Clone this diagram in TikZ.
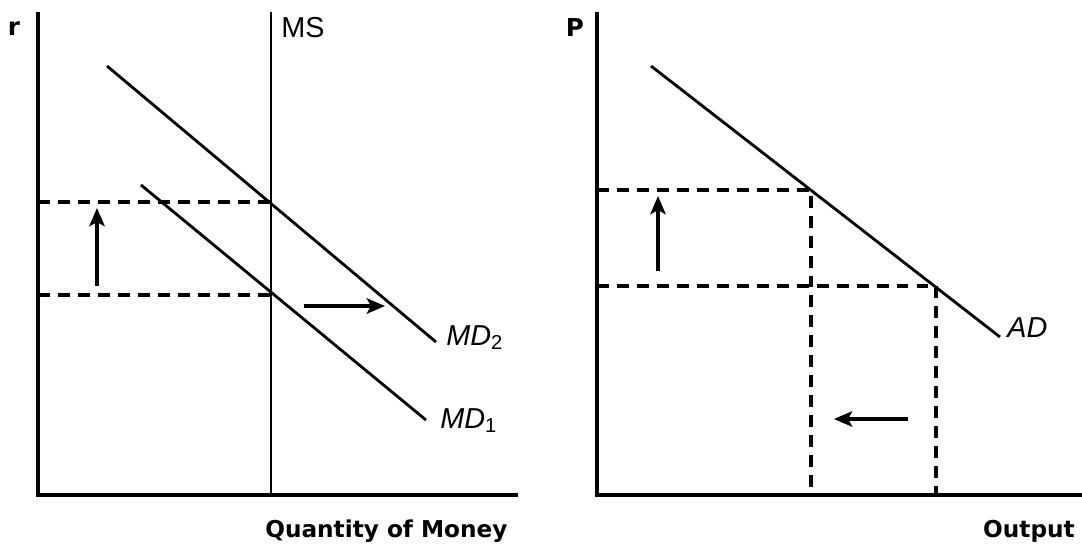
\documentclass[tikz,border=0pt]{standalone}
\usepackage{fontspec}
\setmainfont{Liberation Sans}
\newfontfamily\headfont{DejaVu Sans}
\usetikzlibrary{arrows.meta,positioning}
\tikzset{
 axis/.style={line width=3.4pt},
 curve/.style={line width=2pt},
 guide/.style={line width=2.3pt,dash pattern=on 8.5pt off 5.7pt},
 shiftarrow/.style={-{Stealth[length=13pt,width=11pt,inset=3pt]},line width=2.2pt},
 lbl/.style={inner sep=0pt,anchor=base west,font=\fontsize{20.5pt}{23pt}\selectfont},
 ttl/.style={inner sep=0pt,font=\headfont\bfseries\fontsize{16.5pt}{19pt}\selectfont},
 varlbl/.style={inner sep=0pt,anchor=base,font=\headfont\bfseries\fontsize{17.5pt}{20pt}\selectfont}
}
\begin{document}
\begin{tikzpicture}[x=0.025cm,y=-0.025cm]
\useasboundingbox (0,0) rectangle (1082,547);
% money market
\coordinate (rtop) at (38,12);
\coordinate (rorig) at (38,495);
\coordinate (rend) at (518,495);
\coordinate (mstop) at (271,12);
\coordinate (msbot) at (271,495);
\coordinate (mdtwoa) at (107,66);
\coordinate (mdtwob) at (436,342);
\coordinate (mdonea) at (141,185);
\coordinate (mdoneb) at (426,420);
\coordinate (rhi) at (38,202);
\coordinate (rlo) at (38,295);
\coordinate (ehi) at (271,202);
\coordinate (elo) at (271,295);
\coordinate (upa) at (97,286);
\coordinate (upb) at (97,208);
\coordinate (rta) at (304,306);
\coordinate (rtb) at (385,306);
\draw[axis] (rtop) -- (rorig) -- (rend);
\draw[curve] (mstop) -- (msbot);
\draw[curve] (mdtwoa) -- (mdtwob);
\draw[curve] (mdonea) -- (mdoneb);
\draw[guide] (rhi) -- (ehi);
\draw[guide] (rlo) -- (elo);
\draw[shiftarrow] (upa) -- (upb);
\draw[shiftarrow] (rta) -- (rtb);
\node[varlbl] (rlab) at (14,35) {r};
\node[lbl] (mslab) at (281,37) {MS};
\node[lbl] (mdtwolab) at (446,345) {\textit{MD}\textsubscript{\textup{2}}};
\node[lbl] (mdonelab) at (440,428) {\textit{MD}\textsubscript{\textup{1}}};
\node[ttl,anchor=base west] (qlab) at (265,537) {Quantity of Money};
% goods market
\coordinate (ptop) at (597,12);
\coordinate (porig) at (597,495);
\coordinate (pend) at (1082,495);
\coordinate (ada) at (651,66);
\coordinate (adb) at (1000,337);
\coordinate (phi) at (597,190);
\coordinate (plo) at (597,286);
\coordinate (ghi) at (811,190);
\coordinate (glo) at (936,286);
\coordinate (ghib) at (811,495);
\coordinate (glob) at (936,495);
\coordinate (pupa) at (658,271);
\coordinate (pupb) at (658,196);
\coordinate (lfa) at (908,419);
\coordinate (lfb) at (834,419);
\draw[guide] (phi) -- (ghi) -- (ghib);
\draw[guide] (plo) -- (glo) -- (glob);
\draw[axis] (ptop) -- (porig) -- (pend);
\draw[curve] (ada) -- (adb);
\draw[shiftarrow] (pupa) -- (pupb);
\draw[shiftarrow] (lfa) -- (lfb);
\node[varlbl] (plab) at (575,36) {P};
\node[lbl] (adlab) at (1007,337) {\textit{AD}};
\node[ttl,anchor=base east] (olab) at (1075,537) {Output};
\end{tikzpicture}
\end{document}
